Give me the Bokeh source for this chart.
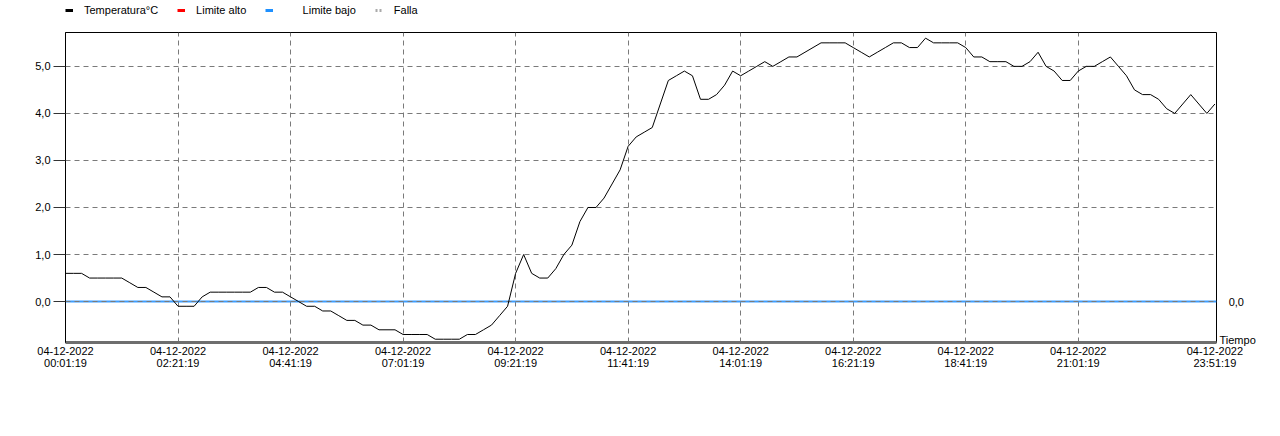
from bokeh.plotting import figure
from bokeh.layouts import column
from bokeh.models import (FixedTicker, Range1d, LinearAxis, Legend, LegendItem)
from bokeh.embed import file_html
from bokeh.resources import INLINE

# ---------------- data ----------------
fecha = "04-12-2022"
minutos = list(range(0, 1440, 10))          # one sample every 10 min from 00:01:19
temperatura = [
    0.6, 0.6, 0.6, 0.5, 0.5, 0.5, 0.5, 0.5, 0.4, 0.3,
    0.3, 0.2, 0.1, 0.1, -0.1, -0.1, -0.1, 0.1, 0.2, 0.2,
    0.2, 0.2, 0.2, 0.2, 0.3, 0.3, 0.2, 0.2, 0.1, 0.0,
    -0.1, -0.1, -0.2, -0.2, -0.3, -0.4, -0.4, -0.5, -0.5, -0.6,
    -0.6, -0.6, -0.7, -0.7, -0.7, -0.7, -0.8, -0.8, -0.8, -0.8,
    -0.7, -0.7, -0.6, -0.5, -0.3, -0.1, 0.6, 1.0, 0.6, 0.5,
    0.5, 0.7, 1.0, 1.2, 1.7, 2.0, 2.0, 2.2, 2.5, 2.8,
    3.3, 3.5, 3.6, 3.7, 4.2, 4.7, 4.8, 4.9, 4.8, 4.3,
    4.3, 4.4, 4.6, 4.9, 4.8, 4.9, 5.0, 5.1, 5.0, 5.1,
    5.2, 5.2, 5.3, 5.4, 5.5, 5.5, 5.5, 5.5, 5.4, 5.3,
    5.2, 5.3, 5.4, 5.5, 5.5, 5.4, 5.4, 5.6, 5.5, 5.5,
    5.5, 5.5, 5.4, 5.2, 5.2, 5.1, 5.1, 5.1, 5.0, 5.0,
    5.1, 5.3, 5.0, 4.9, 4.7, 4.7, 4.9, 5.0, 5.0, 5.1,
    5.2, 5.0, 4.8, 4.5, 4.4, 4.4, 4.3, 4.1, 4.0, 4.2,
    4.4, 4.2, 4.0, 4.2,
]
limite_bajo = 0.0
limite_alto = [float("nan")]      # no high limit drawn
falla = [float("nan")]            # no fault periods

y_ticks = [0, 1, 2, 3, 4, 5]
y_labels = ["0,0", "1,0", "2,0", "3,0", "4,0", "5,0"]
x_ticks = [0, 140, 280, 420, 560, 700, 840, 980, 1120, 1260, 1430]
x_horas = ["00:01:19", "02:21:19", "04:41:19", "07:01:19", "09:21:19",
           "11:41:19", "14:01:19", "16:21:19", "18:41:19", "21:01:19",
           "23:51:19"]
limite_bajo_label = "0,0"
eje_x_titulo = "Tiempo"
series = ["Temperatura°C", "Limite alto", "Limite bajo", "Falla"]

FONT = "Liberation Sans"
FS = "11px"
GRID = "#7a7a7a"

y_min, y_max = -0.87, 5.72
y_titulo = y_min + 0.06      # where the axis title sits on the right side

p = figure(width=1272, height=382,
           x_range=Range1d(0, 1432), y_range=Range1d(y_min, y_max),
           output_backend="svg", toolbar_location=None,
           min_border_left=65, min_border_right=56,
           min_border_top=12, min_border_bottom=60,
           background_fill_color="white", border_fill_color="white")
p.outline_line_color = "black"
p.outline_line_width = 1

# axes
xa = p.xaxis[0]
xa.ticker = FixedTicker(ticks=x_ticks)
xa.major_label_overrides = {t: f"{fecha}\n{h}" for t, h in zip(x_ticks, x_horas)}
xa.axis_line_color = "#6e6e6e"
xa.axis_line_width = 3
xa.major_tick_line_color = None
xa.major_tick_out = 0
xa.major_tick_in = 0
xa.minor_tick_line_color = None
xa.major_label_standoff = 2
xa.major_label_text_font = FONT
xa.major_label_text_font_size = FS
xa.major_label_text_color = "black"
xa.major_label_text_line_height = 1.0

ya = p.yaxis[0]
ya.ticker = FixedTicker(ticks=y_ticks)
ya.major_label_overrides = {t: l for t, l in zip(y_ticks, y_labels)}
ya.axis_line_color = "black"
ya.major_tick_out = 12
ya.major_tick_in = 0
ya.major_tick_line_color = "#333333"
ya.minor_tick_line_color = None
ya.major_label_standoff = 3
ya.major_label_text_font = FONT
ya.major_label_text_font_size = FS
ya.major_label_text_color = "black"

ra = LinearAxis(ticker=FixedTicker(ticks=[y_titulo, limite_bajo]),
                major_label_overrides={limite_bajo: "\u00a0\u00a0\u00a0" + limite_bajo_label,
                                       y_titulo: eje_x_titulo},
                axis_line_color=None, major_tick_line_color=None,
                major_tick_out=0, major_tick_in=0,
                minor_tick_line_color=None, major_label_standoff=3,
                major_label_text_font=FONT, major_label_text_font_size=FS,
                major_label_text_color="black")
p.add_layout(ra, "right")

# grids
p.xgrid.ticker = FixedTicker(ticks=x_ticks[1:-1])
p.ygrid.ticker = FixedTicker(ticks=y_ticks)
for g in (p.xgrid, p.ygrid):
    g.grid_line_color = GRID
    g.grid_line_dash = "5 4"
    g.grid_line_width = 1

# low limit line (blue) with the grid dash drawn over it
p.hspan(y=[limite_bajo], line_color="#3d9dff", line_width=2)
p.hspan(y=[limite_bajo], line_color=GRID, line_width=1, line_dash="5 4")

# data line
p.line(minutos, temperatura, line_color="black", line_width=1)

# ---------------- legend strip on top ----------------
lg = figure(width=1272, height=20, x_range=Range1d(-1, -0.5), y_range=Range1d(-1, -0.5),
            output_backend="svg", toolbar_location=None,
            x_axis_type=None, y_axis_type=None,
            min_border_left=65, min_border_right=56,
            min_border_top=0, min_border_bottom=0,
            background_fill_color="white", border_fill_color="white")
lg.outline_line_color = None
lg.xgrid.visible = False
lg.ygrid.visible = False
r_t = lg.line(minutos, temperatura, line_color="black", line_width=3)
r_a = lg.line(minutos[:1], limite_alto, line_color="red", line_width=3)
r_b = lg.line([minutos[0], minutos[-1]], [limite_bajo, limite_bajo],
              line_color="#1e90ff", line_width=3)
r_f = lg.line(minutos[:1], falla, line_color="#aaaaaa", line_width=3, line_dash="2 2")
legend = Legend(items=[
    LegendItem(label=series[0], renderers=[r_t]),
    LegendItem(label=series[1], renderers=[r_a]),
    LegendItem(label="\u00a0" * 6 + series[2], renderers=[r_b]),
    LegendItem(label=series[3], renderers=[r_f]),
], orientation="horizontal", location="top_left",
    border_line_color=None, background_fill_alpha=0,
    padding=0, margin=0, spacing=19, label_standoff=11,
    glyph_width=8, glyph_height=20, label_height=20,
    label_text_font=FONT, label_text_font_size=FS, label_text_color="black")
lg.add_layout(legend, "center")

layout = column(lg, p, spacing=0)
open("out.html", "w").write(file_html(layout, INLINE))
